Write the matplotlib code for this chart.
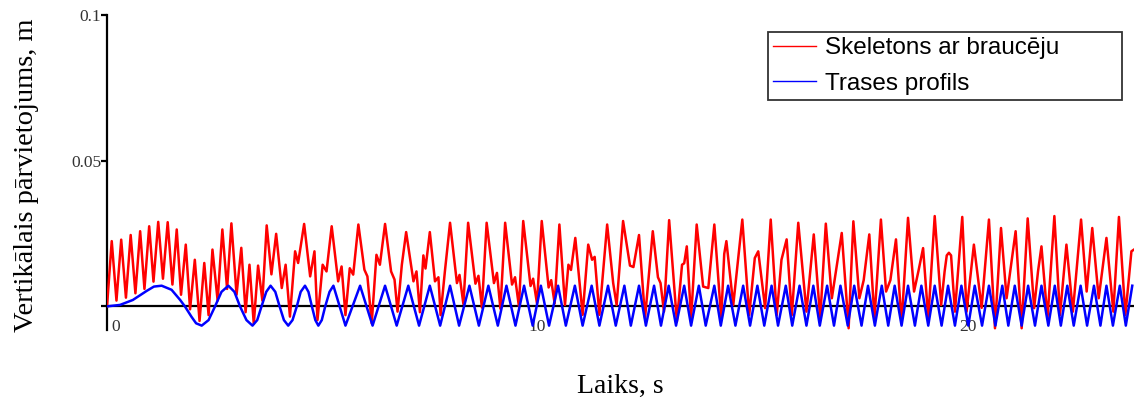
import matplotlib
matplotlib.use("Agg")
import matplotlib.pyplot as plt
from matplotlib.lines import Line2D

# track profile, first slow hump and early cycles (t [s], height [m])
profile_start_t = [0.00, 0.30, 0.60, 0.92, 1.09, 1.27, 1.50, 1.70, 1.81, 1.96, 2.07,
                   2.20, 2.36, 2.51, 2.66, 2.82, 2.96, 3.09, 3.24, 3.38, 3.49, 3.59,
                   3.70, 3.80, 3.91, 4.01, 4.11, 4.21, 4.31, 4.41, 4.50, 4.60, 4.68,
                   4.76, 4.84, 4.91, 4.99, 5.07, 5.17, 5.26]
profile_start_y = [0.0000, 0.0005, 0.0022, 0.0053, 0.0068, 0.0071, 0.0057, 0.0022, 0.0000, -0.0035, -0.0058,
                   -0.0066, -0.0047, 0.0000, 0.0050, 0.0071, 0.0050, 0.0000, -0.0047, -0.0066, -0.0047, 0.0000,
                   0.0050, 0.0071, 0.0050, 0.0000, -0.0047, -0.0066, -0.0047, 0.0000, 0.0050, 0.0071, 0.0050,
                   0.0000, -0.0047, -0.0066, -0.0047, 0.0000, 0.0050, 0.0071]

# later profile crests / hollows
profile_peak_t = [5.88, 6.46, 7.00, 7.50, 7.97, 8.42, 8.86, 9.28, 9.69, 10.08, 10.48, 10.87,
                  11.26, 11.64, 12.02, 12.36, 12.71, 13.05, 13.41, 13.75, 14.11, 14.43, 14.78,
                  15.11, 15.44, 15.77, 16.09, 16.41, 16.73, 17.04, 17.36, 17.68, 18.00, 18.30,
                  18.61, 18.92, 19.23, 19.54, 19.85, 20.16, 20.49, 20.80, 21.09, 21.40, 21.71,
                  22.02, 22.31, 22.62, 22.93, 23.22, 23.53, 23.82]
profile_trough_t = [5.54, 6.17, 6.73, 7.25, 7.74, 8.18, 8.64, 9.08, 9.49, 9.89, 10.27, 10.66,
                    11.05, 11.44, 11.82, 12.17, 12.52, 12.87, 13.22, 13.57, 13.91, 14.26, 14.60,
                    14.94, 15.27, 15.59, 15.92, 16.25, 16.56, 16.89, 17.21, 17.53, 17.84, 18.15,
                    18.46, 18.77, 19.08, 19.39, 19.70, 20.01, 20.33, 20.64, 20.94, 21.25, 21.56,
                    21.87, 22.16, 22.46, 22.77, 23.08, 23.37, 23.67]
profile_peak = 0.0071
profile_trough = -0.0066

# skeleton with rider, turning points of the response
body_t = [0.00, 0.11, 0.22, 0.33, 0.44, 0.55, 0.66, 0.77, 0.87, 0.98, 1.08, 1.19, 1.30, 1.41,
          1.52, 1.62, 1.72, 1.83, 1.93, 2.04, 2.15, 2.26, 2.36, 2.45, 2.57, 2.68, 2.79, 2.89,
          3.01, 3.12, 3.22, 3.31, 3.41, 3.51, 3.61, 3.71, 3.82, 3.93,
          4.06, 4.15, 4.25, 4.37, 4.44, 4.58, 4.72, 4.82, 4.89, 5.01, 5.10, 5.22, 5.37, 5.45,
          5.54, 5.64, 5.72, 5.84, 5.98, 6.05, 6.15, 6.26, 6.34, 6.46, 6.60, 6.68, 6.75, 6.85,
          6.95, 7.12, 7.19, 7.27, 7.35, 7.40, 7.50, 7.62, 7.70, 7.75, 7.85, 7.97,
          8.13, 8.19, 8.28, 8.39, 8.56, 8.63, 8.71, 8.82, 8.99, 9.06, 9.14, 9.25, 9.41, 9.48,
          9.57, 9.67, 9.84, 9.90, 9.99, 10.10, 10.26, 10.32, 10.40, 10.51, 10.64, 10.72, 10.78,
          10.88, 11.05, 11.18, 11.27, 11.33, 11.44, 11.62, 11.76, 11.84, 11.99,
          12.15, 12.23, 12.36, 12.50, 12.68, 12.80, 12.86, 12.94, 13.06, 13.24, 13.36, 13.41,
          13.47, 13.57, 13.70, 13.85, 13.97, 14.11, 14.27, 14.34, 14.39, 14.55, 14.76, 14.92,
          15.05, 15.13, 15.29, 15.42, 15.56, 15.67, 15.79, 15.91, 16.06,
          16.25, 16.42, 16.57, 16.70, 16.84, 17.07, 17.23, 17.34, 17.48, 17.58, 17.71, 17.83,
          17.98, 18.10, 18.20, 18.33, 18.46, 18.61, 18.75, 18.85, 18.96, 19.08, 19.23, 19.38,
          19.46, 19.51, 19.56, 19.61, 19.70, 19.87, 19.97, 20.14,
          20.32, 20.49, 20.63, 20.77, 20.90, 21.11, 21.25, 21.39, 21.54, 21.63, 21.71, 21.85,
          22.01, 22.14, 22.29, 22.44, 22.63, 22.76, 22.89, 23.04, 23.22, 23.38, 23.51, 23.66,
          23.80, 23.86]
body_y = [0.0000, 0.0224, 0.0020, 0.0229, 0.0030, 0.0245, 0.0045, 0.0258, 0.0060, 0.0275, 0.0085,
          0.0290, 0.0095, 0.0289, 0.0075, 0.0264, 0.0040, 0.0212, -0.0010, 0.0160, -0.0050, 0.0149,
          -0.0030, 0.0195, 0.0020, 0.0264, 0.0060, 0.0285, 0.0040, 0.0201, -0.0020, 0.0143, -0.0060,
          0.0140, 0.0020, 0.0278, 0.0110, 0.0249,
          0.0063, 0.0143, -0.0035, 0.0189, 0.0149, 0.0283, 0.0103, 0.0189, -0.0047, 0.0143, 0.0120,
          0.0275, 0.0086, 0.0137, -0.0030, 0.0131, 0.0109, 0.0281, 0.0126, 0.0103, -0.0058, 0.0177,
          0.0143, 0.0283, 0.0120, 0.0092, -0.0018, 0.0143, 0.0255, 0.0086, 0.0120, -0.0020, 0.0175,
          0.0130, 0.0255, 0.0086, 0.0100, -0.0030, 0.0120, 0.0287,
          0.0080, 0.0108, 0.0008, 0.0287, 0.0078, 0.0105, -0.0004, 0.0287, 0.0080, 0.0115, -0.0008,
          0.0287, 0.0075, 0.0100, 0.0000, 0.0293, 0.0070, 0.0095, 0.0010, 0.0293, 0.0065, 0.0090,
          0.0010, 0.0281, 0.0005, 0.0143, 0.0125, 0.0235, -0.0029, 0.0212, 0.0160, 0.0170, -0.0029,
          0.0281, 0.0080, 0.0005, 0.0293,
          0.0140, 0.0135, 0.0245, -0.0040, 0.0258, 0.0100, 0.0080, -0.0018, 0.0296, -0.0052, 0.0143,
          0.0148, 0.0206, -0.0041, 0.0281, 0.0068, 0.0063, 0.0281, -0.0041, 0.0180, 0.0224, 0.0005,
          0.0298, -0.0030, 0.0166, 0.0189, -0.0006, 0.0298, -0.0030, 0.0160, 0.0230, -0.0030, 0.0287,
          -0.0018, 0.0247, -0.0041, 0.0284, 0.0028, 0.0252, -0.0075, 0.0292, 0.0028, 0.0090, 0.0247,
          -0.0041, 0.0298, 0.0051, 0.0090, 0.0230, -0.0058, 0.0304, 0.0051, 0.0120, 0.0200, -0.0041,
          0.0310, 0.0005, 0.0120, 0.0175, 0.0184, 0.0175, -0.0018, 0.0307, -0.0018, 0.0212,
          -0.0005, 0.0298, -0.0075, 0.0269, 0.0028, 0.0258, -0.0075, 0.0302, -0.0006, 0.0120, 0.0206,
          -0.0041, 0.0310, -0.0030, 0.0212, -0.0018, 0.0298, 0.0051, 0.0269, 0.0028, 0.0235, -0.0018,
          0.0307, -0.0030, 0.0189, 0.0195]

legend_labels = ["Skeletons ar braucēju", "Trases profils"]
x_ticks = [10, 20]
y_ticks = [0, 0.05, 0.1]
y_tick_labels = ["", "0.05", "0.1"]

# assemble the full track profile
later = sorted([(t, profile_peak) for t in profile_peak_t] +
               [(t, profile_trough) for t in profile_trough_t])
profile_t = profile_start_t + [p[0] for p in later]
profile_y = profile_start_y + [p[1] for p in later]

W, H = 1134, 401
fig = plt.figure(figsize=(W / 100, H / 100), dpi=100)
ax = fig.add_axes([107 / W, 1 - 330 / H, 1027 / W, 315 / H])

ax.plot(body_t, body_y, color="#ff0000", lw=1.8, zorder=2, solid_joinstyle="round")
ax.plot(profile_t, profile_y, color="#0000ff", lw=1.8, zorder=3, solid_joinstyle="round")

ax.set_xlim(0, 23.86)
ax.set_ylim(-0.0081, 0.1)

for side in ("top", "right"):
    ax.spines[side].set_visible(False)
ax.spines["bottom"].set_position(("data", 0))
for side in ("left", "bottom"):
    ax.spines[side].set_linewidth(1.6)
    ax.spines[side].set_color("black")
    ax.spines[side].set_zorder(1)

serif = "Liberation Serif"
ax.set_yticks(y_ticks)
ax.set_yticklabels(y_tick_labels, family=serif, fontsize=12.5, color="#333333")
ax.tick_params(axis="y", direction="out", length=4, width=1.6, pad=0)
ax.set_xticks(x_ticks)
ax.set_xticklabels([str(v) for v in x_ticks], family=serif, fontsize=12.5, color="#333333")
ax.tick_params(axis="x", direction="in", length=3, width=1.2, pad=9)
ax.text(0.1, -0.0043, "0", family=serif, fontsize=12.5, color="#333333",
        ha="left", va="top")

fig.text(27 / W, 1 - 175 / H, "Vertikālais pārvietojums, m", rotation=90,
         family=serif, fontsize=20.5, ha="center", va="center")
fig.text(620 / W, 1 - 386 / H, "Laiks, s", family=serif, fontsize=20,
         ha="center", va="center")

handles = [Line2D([], [], color="#ff0000", lw=1.0),
           Line2D([], [], color="#0000ff", lw=1.0)]
leg = fig.legend(handles, legend_labels, loc="upper left",
                 bbox_to_anchor=(768 / W, 1 - 99 / H, 354 / W, 67 / H), mode="expand",
                 borderaxespad=0, borderpad=0.22, handlelength=1.77, handletextpad=0.37,
                 labelspacing=0.55, fancybox=False, prop={"family": "Liberation Sans", "size": 17.5})
leg.get_frame().set_edgecolor("black")
leg.get_frame().set_linewidth(1.3)

fig.savefig("out.png", dpi=100)
